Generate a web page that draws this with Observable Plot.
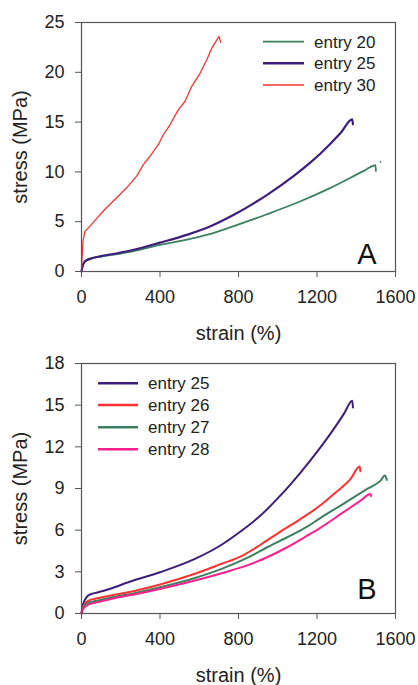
<!DOCTYPE html>
<html>
<head>
<meta charset="utf-8">
<script src="https://cdn.jsdelivr.net/npm/d3@7"></script>
<script src="https://cdn.jsdelivr.net/npm/@observablehq/plot@0.6"></script>
<style>
  html, body { margin: 0; padding: 0; background: white; }
  #chart svg { display: block; }
</style>
</head>
<body>
<div id="chart"></div>
<script>
// ---- ticks ----
const xTicks = [0, 400, 800, 1200, 1600];
const yTicksA = [0, 5, 10, 15, 20, 25];
const yTicksB = [0, 3, 6, 9, 12, 15, 18];

// ---- labels ----
const xLabel = "strain (%)";
const yLabel = "stress (MPa)";
const legendA = ["entry 20", "entry 25", "entry 30"];
const legendB = ["entry 25", "entry 26", "entry 27", "entry 28"];

// ---- Panel A data ----
const a20Strain = [0, 4, 9, 17, 26, 51, 100, 153, 255, 400, 544, 663, 776, 946, 1116, 1269, 1439, 1498, 1500];
const a20Stress = [0, 0.4, 0.7, 0.98, 1.1, 1.3, 1.5, 1.66, 2.0, 2.67, 3.23, 3.8, 4.55, 5.75, 7.05, 8.4, 10.1, 10.67, 10.1];
const a20DotStrain = [1524];
const a20DotStress = [11.0];

const a25Strain = [0, 4, 9, 17, 26, 51, 100, 153, 255, 400, 544, 663, 776, 946, 1082, 1167, 1218, 1320, 1380, 1383];
const a25Stress = [0, 0.4, 0.73, 1.0, 1.13, 1.33, 1.55, 1.73, 2.13, 2.9, 3.73, 4.6, 5.7, 7.7, 9.6, 10.95, 11.85, 13.9, 15.27, 14.8];

const a30Strain = [0, 3, 8, 17, 51, 111, 170, 230, 281, 315, 349, 391, 417, 451, 493, 527, 561, 604, 638, 663, 689, 701, 709];
const a30Stress = [0, 1.5, 3.07, 4.0, 4.73, 6.07, 7.23, 8.4, 9.57, 10.73, 11.57, 12.73, 13.73, 14.73, 16.23, 17.07, 18.57, 19.9, 21.23, 22.4, 23.23, 23.6, 23.0];

// ---- Panel B data ----
const b25Strain = [0, 4, 9, 20, 34, 60, 85, 150, 238, 400, 578, 714, 810, 912, 1014, 1116, 1209, 1269, 1337, 1380, 1383];
const b25Stress = [0, 0.35, 0.7, 1.05, 1.29, 1.45, 1.53, 1.8, 2.25, 2.97, 3.93, 4.95, 5.9, 7.05, 8.5, 10.15, 11.8, 12.95, 14.37, 15.32, 14.84];

const b26Strain = [0, 5, 17, 40, 68, 150, 238, 400, 578, 714, 810, 912, 1014, 1116, 1209, 1286, 1371, 1418, 1421];
const b26Stress = [0, 0.35, 0.7, 0.95, 1.06, 1.3, 1.53, 2.09, 2.86, 3.58, 4.1, 4.95, 5.9, 6.8, 7.7, 8.61, 9.69, 10.58, 10.24];

const b27Strain = [0, 5, 17, 40, 85, 150, 238, 400, 578, 714, 844, 946, 1048, 1150, 1209, 1320, 1456, 1524, 1546, 1556];
const b27Stress = [0, 0.3, 0.58, 0.8, 0.94, 1.15, 1.37, 1.89, 2.56, 3.21, 4.0, 4.77, 5.49, 6.25, 6.8, 7.77, 8.97, 9.57, 9.93, 9.62];

const b28Strain = [0, 5, 17, 40, 85, 150, 238, 400, 578, 714, 851, 946, 1048, 1150, 1209, 1320, 1422, 1473, 1476];
const b28Stress = [0, 0.25, 0.46, 0.68, 0.82, 1.05, 1.29, 1.77, 2.37, 2.9, 3.5, 4.05, 4.77, 5.6, 6.1, 7.15, 8.13, 8.61, 8.45];

// ---- colours ----
const cGreen = "#3c8060";
const cPurple = "#3c1e7c";
const cRed = "#ff3030";
const cPink = "#ff1e8c";

const rows = (xs, ys) => xs.map((x, i) => ({x, y: ys[i]}));
const FONT = "'Liberation Sans', Arial, Helvetica, sans-serif";
const fmt = d => String(d);

function common(yDomain, yTicks, height, mt, mb, letter, lineMarks, letterDy) {
  return Plot.plot({
    width: 418,
    height,
    marginLeft: 81,
    marginRight: 23,
    marginTop: mt,
    marginBottom: mb,
    style: {fontFamily: FONT, fontSize: "18px", color: "#222", background: "white", overflow: "visible"},
    x: {domain: [0, 1600], label: null},
    y: {domain: yDomain, label: null},
    marks: [
      Plot.axisX({ticks: xTicks, tickFormat: fmt, tickSize: 6, tickPadding: 13, stroke: "#555", fontSize: 18, label: null}),
      Plot.axisY({ticks: yTicks, tickFormat: fmt, tickSize: 6, tickPadding: 11, stroke: "#555", fontSize: 18, label: null}),
      ...lineMarks,
      Plot.frame({stroke: "#555", strokeWidth: 1.2}),
      Plot.text([xLabel], {text: d => d, frameAnchor: "bottom", dy: 62, fontSize: 20, lineAnchor: "middle", fill: "#222"}),
      Plot.text([yLabel], {text: d => d, frameAnchor: "left", dx: -61, rotate: -90, fontSize: 20, lineAnchor: "middle", textAnchor: "middle", fill: "#222"}),
      Plot.text([letter], {text: d => d, frameAnchor: "bottom-right", dx: -19, dy: letterDy, fontSize: 29, textAnchor: "end", lineAnchor: "bottom", fill: "#111"})
    ]
  });
}

function addLegend(svg, labels, colors, widths, x0, x1, tx, ys) {
  const g = d3.select(svg).append("g")
    .attr("font-family", FONT).attr("font-size", 17).attr("fill", "#222").attr("text-anchor", "start");
  labels.forEach((lab, i) => {
    g.append("line").attr("x1", x0).attr("x2", x1).attr("y1", ys[i]).attr("y2", ys[i])
      .attr("stroke", colors[i]).attr("stroke-width", widths[i]);
    g.append("text").attr("x", tx).attr("y", ys[i]).attr("dy", "0.35em").attr("text-anchor", "start").text(lab);
  });
}

const CURVE = "monotone-x";

// Panel A
const plotA = common([0, 25], yTicksA, 340, 22, 69, "A", [
  Plot.line(rows(a20Strain, a20Stress), {x: "x", y: "y", stroke: cGreen, strokeWidth: 1.8, curve: CURVE}),
  Plot.dot(rows(a20DotStrain, a20DotStress), {x: "x", y: "y", r: 0.9, fill: cGreen, stroke: "none"}),
  Plot.line(rows(a25Strain, a25Stress), {x: "x", y: "y", stroke: cPurple, strokeWidth: 2.2, curve: CURVE}),
  Plot.line(rows(a30Strain, a30Stress), {x: "x", y: "y", stroke: cRed, strokeWidth: 1.3})
], -8);
addLegend(plotA, legendA, [cGreen, cPurple, cRed], [1.8, 2.4, 1.5], 263, 304, 314, [41.7, 63.3, 85]);

// Panel B
const plotB = common([0, 18], yTicksB, 345, 23, 72, "B", [
  Plot.line(rows(b25Strain, b25Stress), {x: "x", y: "y", stroke: cPurple, strokeWidth: 2, curve: CURVE}),
  Plot.line(rows(b26Strain, b26Stress), {x: "x", y: "y", stroke: cRed, strokeWidth: 2, curve: CURVE}),
  Plot.line(rows(b27Strain, b27Stress), {x: "x", y: "y", stroke: cGreen, strokeWidth: 2, curve: CURVE}),
  Plot.line(rows(b28Strain, b28Stress), {x: "x", y: "y", stroke: cPink, strokeWidth: 2, curve: CURVE})
], -15);
addLegend(plotB, legendB, [cPurple, cRed, cGreen, cPink], [2.4, 2.4, 2.4, 2.4], 98, 138, 148, [43.3, 65, 87.3, 109.3]);

document.getElementById("chart").append(plotA, plotB);
</script>
</body>
</html>
